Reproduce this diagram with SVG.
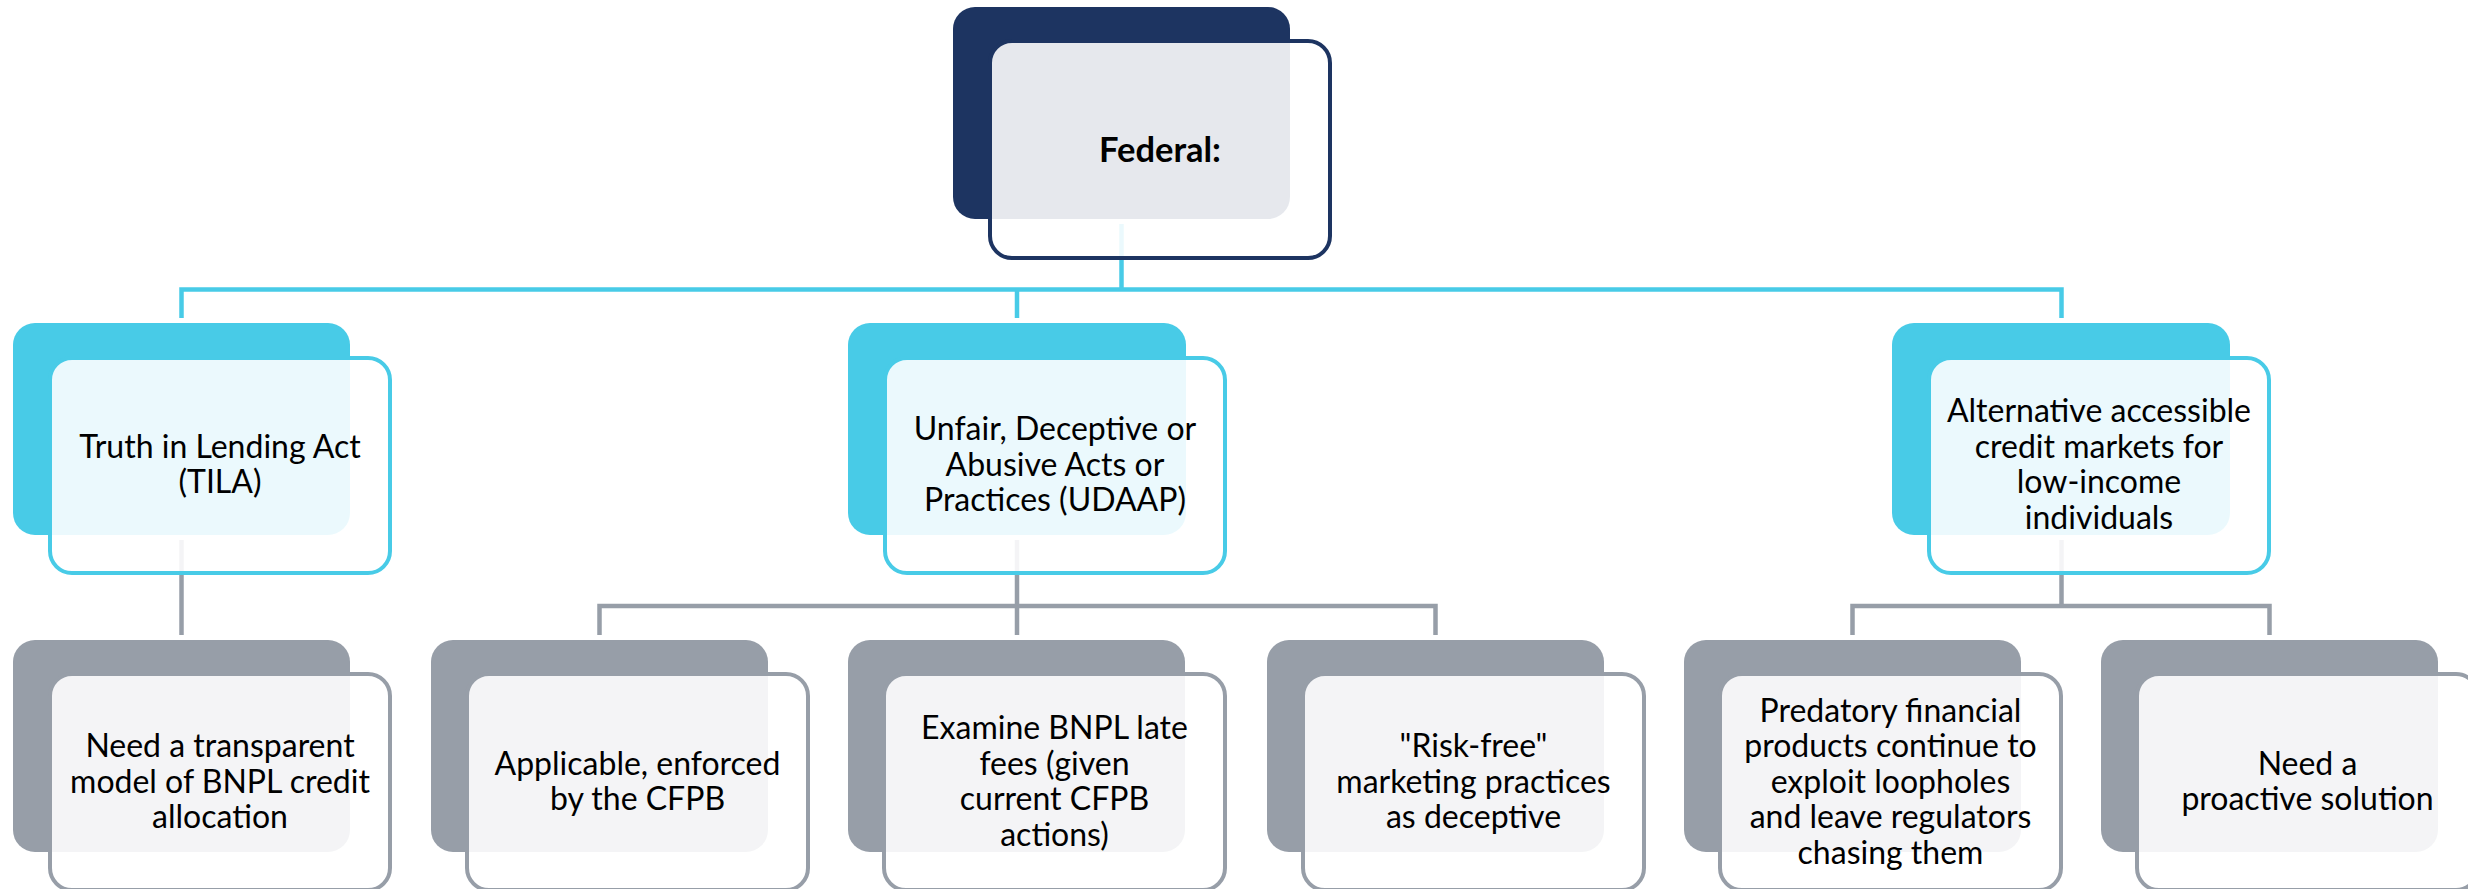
<svg xmlns="http://www.w3.org/2000/svg" width="2468" height="889" viewBox="0 0 2468 889">
  <style>
    .back { stroke: none; }
    .front { fill: #ffffff; fill-opacity: 0.89; stroke-width: 4; }
    .navy .back { fill: #1d3461; }
    .navy .front { stroke: #1d3461; }
    .cyan .back { fill: #48cbe7; }
    .cyan .front { stroke: #48cbe7; }
    .grey .back { fill: #979ea8; }
    .grey .front { stroke: #979ea8; }
    .label { font-family: Lato, "Open Sans", "Liberation Sans", sans-serif; font-size: 32px; fill: #000000; text-anchor: middle; }
    .title { font-weight: bold; font-size: 34.5px; }
    .link { fill: none; stroke-width: 4.5; stroke-linejoin: miter; stroke-linecap: butt; }
    .link-cyan { stroke: #48cbe7; }
    .link-grey { stroke: #979ea8; }
  </style>

  <rect x="0" y="0" width="2468" height="889" fill="#ffffff"/>

  <!-- connectors (drawn first so the translucent fronts wash them out) -->
  <g id="connectors">
    <path class="link link-cyan" d="M1121.5 224 V289.5"/>
    <path class="link link-cyan" d="M181.5 318 V289.5 H2061.5 V318"/>
    <path class="link link-cyan" d="M1017 289.5 V318"/>
    <path class="link link-grey" d="M181.5 540 V635"/>
    <path class="link link-grey" d="M1017 540 V635"/>
    <path class="link link-grey" d="M599.5 635 V606 H1435.5 V635"/>
    <path class="link link-grey" d="M2061.5 540 V606"/>
    <path class="link link-grey" d="M1852.5 635 V606 H2269.5 V635"/>
  </g>

  <!-- root -->
  <g id="node-federal" class="navy">
    <rect class="back" x="953" y="7" width="337" height="212" rx="22"/>
    <rect class="front" x="990" y="41" width="340" height="217" rx="22"/>
    <text class="label title" x="1160" y="161.5">Federal:</text>
  </g>

  <!-- second level -->
  <g id="node-tila" class="cyan">
    <rect class="back" x="13" y="323" width="337" height="212" rx="22"/>
    <rect class="front" x="50" y="358" width="340" height="215" rx="22"/>
    <text class="label" x="220"><tspan x="220" y="457.7">Truth in Lending Act</tspan><tspan x="220" y="493.2">(TILA)</tspan></text>
  </g>

  <g id="node-udaap" class="cyan">
    <rect class="back" x="848" y="323" width="338" height="212" rx="22"/>
    <rect class="front" x="885" y="358" width="340" height="215" rx="22"/>
    <text class="label" x="1055"><tspan x="1055" y="440">Unfair, Deceptive or</tspan><tspan x="1055" y="475.5">Abusive Acts or</tspan><tspan x="1055" y="511">Practices (UDAAP)</tspan></text>
  </g>

  <g id="node-alternative" class="cyan">
    <rect class="back" x="1892" y="323" width="338" height="212" rx="22"/>
    <rect class="front" x="1929" y="358" width="340" height="215" rx="22"/>
    <text class="label" x="2099"><tspan x="2099" y="422.2">Alternative accessible</tspan><tspan x="2099" y="457.7">credit markets for</tspan><tspan x="2099" y="493.2">low-income</tspan><tspan x="2099" y="528.7">individuals</tspan></text>
  </g>

  <!-- third level -->
  <g id="node-transparent-model" class="grey">
    <rect class="back" x="13" y="640" width="337" height="212" rx="22"/>
    <rect class="front" x="50" y="674" width="340" height="216" rx="22"/>
    <text class="label" x="220"><tspan x="220" y="757">Need a transparent</tspan><tspan x="220" y="792.5">model of BNPL credit</tspan><tspan x="220" y="828">allocation</tspan></text>
  </g>

  <g id="node-applicable" class="grey">
    <rect class="back" x="431" y="640" width="337" height="212" rx="22"/>
    <rect class="front" x="467" y="674" width="341" height="216" rx="22"/>
    <text class="label" x="637.5"><tspan x="637.5" y="774.7">Applicable, enforced</tspan><tspan x="637.5" y="810.2">by the CFPB</tspan></text>
  </g>

  <g id="node-late-fees" class="grey">
    <rect class="back" x="848" y="640" width="337" height="212" rx="22"/>
    <rect class="front" x="884" y="674" width="341" height="216" rx="22"/>
    <text class="label" x="1054.5"><tspan x="1054.5" y="739.2">Examine BNPL late</tspan><tspan x="1054.5" y="774.7">fees (given</tspan><tspan x="1054.5" y="810.2">current CFPB</tspan><tspan x="1054.5" y="845.7">actions)</tspan></text>
  </g>

  <g id="node-risk-free" class="grey">
    <rect class="back" x="1267" y="640" width="337" height="212" rx="22"/>
    <rect class="front" x="1303" y="674" width="341" height="216" rx="22"/>
    <text class="label" x="1473.5"><tspan x="1473.5" y="757">"Risk-free"</tspan><tspan x="1473.5" y="792.5">marketing practices</tspan><tspan x="1473.5" y="828">as deceptive</tspan></text>
  </g>

  <g id="node-predatory" class="grey">
    <rect class="back" x="1684" y="640" width="337" height="212" rx="22"/>
    <rect class="front" x="1720" y="674" width="341" height="216" rx="22"/>
    <text class="label" x="1890.5"><tspan x="1890.5" y="721.5">Predatory financial</tspan><tspan x="1890.5" y="757">products continue to</tspan><tspan x="1890.5" y="792.5">exploit loopholes</tspan><tspan x="1890.5" y="828">and leave regulators</tspan><tspan x="1890.5" y="863.5">chasing them</tspan></text>
  </g>

  <g id="node-proactive" class="grey">
    <rect class="back" x="2101" y="640" width="337" height="212" rx="22"/>
    <rect class="front" x="2137" y="674" width="341" height="216" rx="22"/>
    <text class="label" x="2307.5"><tspan x="2307.5" y="774.7">Need a</tspan><tspan x="2307.5" y="810.2">proactive solution</tspan></text>
  </g>
</svg>
